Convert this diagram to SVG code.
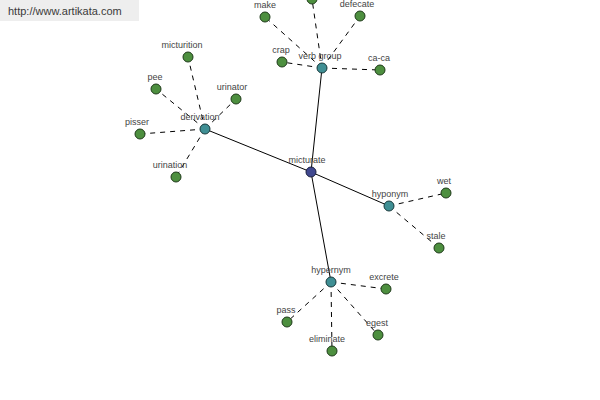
<svg xmlns="http://www.w3.org/2000/svg" width="600" height="400" viewBox="0 0 600 400">
<style>
.solid{stroke:#000;stroke-width:1;fill:none}
.dash{stroke:#000;stroke-width:1;stroke-dasharray:5,5;fill:none}
.leaf{fill:#4d8f3f;stroke:#1f3a1a;stroke-width:1}
.hub{fill:#3f8f94;stroke:#1a3a3c;stroke-width:1}
.root{fill:#40488f;stroke:#1a1f40;stroke-width:1}
text{font-family:"Liberation Sans",Arial,sans-serif;font-size:9px;fill:#444;text-anchor:middle}
.hdr{font-size:11px;fill:#3a3a3a;text-anchor:start}
</style>
<rect width="600" height="400" fill="#fff"/>
<rect x="0" y="0" width="139" height="21" fill="#eeeeee"/>
<text class="hdr" x="8" y="15">http://www.artikata.com</text>
<g id="connectors">
<line class="solid" x1="311" y1="172" x2="322" y2="68"/>
<line class="solid" x1="311" y1="172" x2="205" y2="129"/>
<line class="solid" x1="311" y1="172" x2="389" y2="206"/>
<line class="solid" x1="311" y1="172" x2="331" y2="282"/>
<line class="dash" x1="322" y1="68" x2="265" y2="17"/>
<line class="dash" x1="322" y1="68" x2="312" y2="-1"/>
<line class="dash" x1="322" y1="68" x2="360" y2="16"/>
<line class="dash" x1="322" y1="68" x2="282" y2="62"/>
<line class="dash" x1="322" y1="68" x2="380" y2="70"/>
<line class="dash" x1="205" y1="129" x2="188" y2="57"/>
<line class="dash" x1="205" y1="129" x2="156" y2="89"/>
<line class="dash" x1="205" y1="129" x2="236" y2="99"/>
<line class="dash" x1="205" y1="129" x2="140" y2="134"/>
<line class="dash" x1="205" y1="129" x2="176" y2="177"/>
<line class="dash" x1="389" y1="206" x2="446" y2="193"/>
<line class="dash" x1="389" y1="206" x2="439" y2="248"/>
<line class="dash" x1="331" y1="282" x2="386" y2="289"/>
<line class="dash" x1="331" y1="282" x2="287" y2="322"/>
<line class="dash" x1="331" y1="282" x2="332" y2="351"/>
<line class="dash" x1="331" y1="282" x2="378" y2="335"/>
</g>
<g id="n-make"><circle class="leaf" cx="265" cy="17" r="5"/><text x="265" y="8">make</text></g>
<g id="n-top"><circle class="leaf" cx="312" cy="-1" r="5"/></g>
<g id="n-defecate"><circle class="leaf" cx="360" cy="16" r="5"/><text x="357" y="7">defecate</text></g>
<g id="n-crap"><circle class="leaf" cx="282" cy="62" r="5"/><text x="281" y="53">crap</text></g>
<g id="n-ca-ca"><circle class="leaf" cx="380" cy="70" r="5"/><text x="379" y="61">ca-ca</text></g>
<g id="n-micturition"><circle class="leaf" cx="188" cy="57" r="5"/><text x="182" y="48">micturition</text></g>
<g id="n-pee"><circle class="leaf" cx="156" cy="89" r="5"/><text x="155" y="80">pee</text></g>
<g id="n-urinator"><circle class="leaf" cx="236" cy="99" r="5"/><text x="232" y="90">urinator</text></g>
<g id="n-pisser"><circle class="leaf" cx="140" cy="134" r="5"/><text x="137" y="125">pisser</text></g>
<g id="n-urination"><circle class="leaf" cx="176" cy="177" r="5"/><text x="170" y="168">urination</text></g>
<g id="n-wet"><circle class="leaf" cx="446" cy="193" r="5"/><text x="444" y="184">wet</text></g>
<g id="n-stale"><circle class="leaf" cx="439" cy="248" r="5"/><text x="436" y="239">stale</text></g>
<g id="n-excrete"><circle class="leaf" cx="386" cy="289" r="5"/><text x="384" y="280">excrete</text></g>
<g id="n-pass"><circle class="leaf" cx="287" cy="322" r="5"/><text x="286" y="313">pass</text></g>
<g id="n-eliminate"><circle class="leaf" cx="332" cy="351" r="5"/><text x="327" y="342">eliminate</text></g>
<g id="n-egest"><circle class="leaf" cx="378" cy="335" r="5"/><text x="377" y="326">egest</text></g>
<g id="n-verb-group"><circle class="hub" cx="322" cy="68" r="5"/><text x="320" y="59">verb group</text></g>
<g id="n-derivation"><circle class="hub" cx="205" cy="129" r="5"/><text x="200" y="120">derivation</text></g>
<g id="n-hyponym"><circle class="hub" cx="389" cy="206" r="5"/><text x="390" y="197">hyponym</text></g>
<g id="n-hypernym"><circle class="hub" cx="331" cy="282" r="5"/><text x="331" y="273">hypernym</text></g>
<g id="n-micturate"><circle class="root" cx="311" cy="172" r="5"/><text x="307" y="163">micturate</text></g>
</svg>
